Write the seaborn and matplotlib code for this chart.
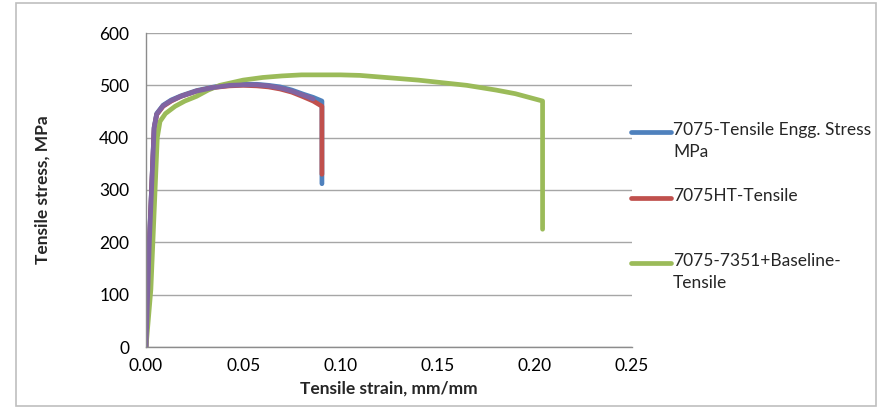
import pandas as pd
import seaborn as sns
import matplotlib.pyplot as plt
from matplotlib.lines import Line2D
from matplotlib.patches import Rectangle

# Curvas de tension-deformacion
blue_strain = [0, 0.0017, 0.0042, 0.0055, 0.0088, 0.013, 0.018, 0.026, 0.035, 0.043, 0.050,
               0.057, 0.063, 0.069, 0.075, 0.081, 0.086, 0.0905, 0.0905]
blue_stress = [0, 200, 420, 446, 462, 472, 480, 490, 497, 501, 502,
               502, 500, 497, 491, 483, 477, 470, 312]

red_strain = [0, 0.0017, 0.0042, 0.0055, 0.0088, 0.013, 0.018, 0.026, 0.035, 0.043, 0.050,
              0.057, 0.063, 0.069, 0.075, 0.081, 0.086, 0.0905, 0.0905]
red_stress = [0, 195, 418, 444, 460, 470, 479, 489, 496, 499, 500,
              499, 497, 493, 487, 478, 470, 460, 330]

green_strain = [0, 0.0025, 0.0058, 0.0072, 0.010, 0.015, 0.020, 0.026, 0.032, 0.038, 0.050,
                0.060, 0.070, 0.080, 0.090, 0.100, 0.110, 0.120, 0.130, 0.140, 0.150,
                0.165, 0.180, 0.190, 0.204, 0.204]
green_stress = [0, 110, 400, 431, 446, 460, 470, 479, 491, 500, 510,
                515, 518, 520, 520, 520, 519, 516, 513, 510, 506,
                500, 491, 484, 470, 225]

purple_strain = [0, 0.0017, 0.0042, 0.0055, 0.0088, 0.013, 0.018, 0.026, 0.035, 0.043, 0.050,
                 0.057, 0.063, 0.069, 0.075, 0.081, 0.086]
purple_stress = [0, 198, 419, 445, 461, 471, 479, 489, 496, 500, 501,
                 501, 499, 495, 489, 481, 474]

series_names = ["7075-Tensile Engg. Stress\nMPa", "7075HT-Tensile",
                "7075-7351+Baseline-\nTensile", "extra"]
colors = ["#4F81BD", "#C0504D", "#9BBB59", "#8064A2"]
x_ticks = [0, 0.05, 0.10, 0.15, 0.20, 0.25]

partes = []
for nombre, xs, ys in zip(series_names,
                          [blue_strain, red_strain, green_strain, purple_strain],
                          [blue_stress, red_stress, green_stress, purple_stress]):
    partes.append(pd.DataFrame({"strain": xs, "stress": ys, "serie": nombre}))
df = pd.concat(partes, ignore_index=True)

sns.set_style("white")
plt.rcParams["font.family"] = ["Lato", "DejaVu Sans"]
fs = 12.5

fig = plt.figure(figsize=(8.81, 4.08), dpi=100)
ax = fig.add_axes([146 / 881, 1 - 347 / 408, (632 - 146) / 881, (347 - 33) / 408])

# borde exterior
fig.add_artist(Rectangle((16 / 881, 2 / 408), 860 / 881, 403 / 408, transform=fig.transFigure,
                         fill=False, edgecolor="#BFBFBF", linewidth=1.2))

sns.lineplot(data=df, x="strain", y="stress", hue="serie", palette=dict(zip(series_names, colors)),
             sort=False, estimator=None, linewidth=3.4, legend=False, ax=ax)

ax.set_xlim(0, 0.25)
ax.set_ylim(0, 600)
ax.set_xticks(x_ticks)
ax.set_xticklabels([f"{v:.2f}" for v in x_ticks])
ax.set_yticks(range(0, 601, 100))
ax.yaxis.grid(True, color="#A6A6A6", linewidth=1)
ax.set_axisbelow(True)
for s in ["top", "right"]:
    ax.spines[s].set_visible(False)
for s in ["left", "bottom"]:
    ax.spines[s].set_color("#8C8C8C")
    ax.spines[s].set_linewidth(1)
ax.tick_params(axis="both", length=0, labelsize=fs, colors="#000000")
ax.tick_params(axis="y", pad=12)
ax.tick_params(axis="x", pad=8)
ax.set_xlabel("Tensile strain, mm/mm", fontsize=fs, fontweight="bold")
ax.set_ylabel("Tensile stress, MPa", fontsize=fs, fontweight="bold")
ax.xaxis.set_label_coords(0.5, -0.108)
ax.yaxis.set_label_coords(-0.197, 0.5)

# leyenda a la derecha (como en Excel, alineada con la primera linea)
ley_y = [132, 198, 263]
for nombre, c, yy in zip(series_names[:3], colors[:3], ley_y):
    yf = 1 - yy / 408
    fig.add_artist(Line2D([631 / 881, 671 / 881], [yf, yf], transform=fig.transFigure,
                          color=c, linewidth=3.4))
    fig.text(673 / 881, 1 - (yy - 10) / 408, nombre, fontsize=fs, va="top", ha="left",
             linespacing=1.45)

fig.savefig("out.png", dpi=100)
